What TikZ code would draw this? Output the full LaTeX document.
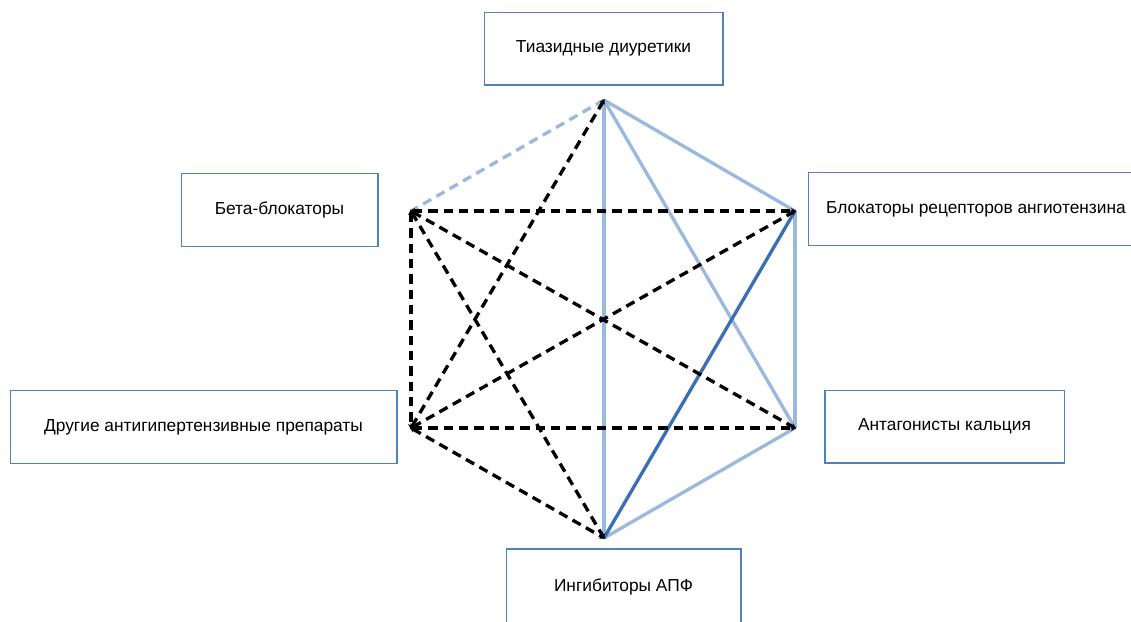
\documentclass[tikz,border=0pt]{standalone}
\usepackage{fontspec}
\setmainfont{Liberation Sans}
\usetikzlibrary{arrows.meta}

\definecolor{boxblue}{RGB}{79,129,189}
\definecolor{paleblue}{RGB}{155,185,222}
\definecolor{deepblue}{RGB}{58,110,181}

\tikzset{
    drug/.style={draw=boxblue, line width=1pt, minimum height=54.5pt, inner sep=0pt, font=\fontsize{13pt}{15pt}\selectfont},
    link/.style={black, line width=2.5pt, dash pattern=on 7pt off 4.5pt, {Stealth[length=4pt,width=4.5pt]}-{Stealth[length=4pt,width=4.5pt]}, shorten <=-1pt, shorten >=-1pt},
    palelink/.style={paleblue, line width=2.5pt},
    deeplink/.style={deepblue, line width=2.5pt}
}

\begin{document}
\begin{tikzpicture}[x=0.75pt, y=-0.75pt]
            \useasboundingbox (0,0) rectangle (1131,621);

            \node[drug, minimum width=179pt] (tiazid) at (603.5,48.5) {Тиазидные диуретики};
            \node[drug, minimum width=147.5pt] (beta) at (279.5,210) {Бета-блокаторы};
            \node[drug, minimum width=251pt, anchor=west] (arb) at (808,209) {Блокаторы рецепторов ангиотензина};
            \node[drug, minimum width=290pt] (other) at (203.5,427) {Другие антигипертензивные препараты};
            \node[drug, minimum width=179.5pt] (calc) at (944.5,426.5) {Антагонисты кальция};
            \node[drug, minimum width=176pt, minimum height=57pt] (ace) at (623.5,587) {Ингибиторы АПФ};

            \coordinate (vtop) at (604,100);
            \coordinate (vul) at (411,211);
            \coordinate (vur) at (795,211);
            \coordinate (vll) at (411,428);
            \coordinate (vlr) at (795,428);
            \coordinate (vbot) at (604,538);

            \draw[palelink, dash pattern=on 7pt off 4.5pt] (vtop) -- (vul);
            \draw[palelink] (vtop) -- (vur);
            \draw[palelink] (vtop) -- (vbot);
            \draw[palelink] (vtop) -- (vlr);
            \draw[palelink] (vur) -- (vlr);
            \draw[palelink] (vlr) -- (vbot);
            \draw[deeplink] (vur) -- (vbot);

            \draw[link] (vll) -- (vtop);
            \draw[link] (vul) -- (vur);
            \draw[link] (vul) -- (vll);
            \draw[link] (vul) -- (vlr);
            \draw[link] (vul) -- (vbot);
            \draw[link] (vll) -- (vur);
            \draw[link] (vll) -- (vlr);
            \draw[link] (vll) -- (vbot);
        \end{tikzpicture}
\end{document}
